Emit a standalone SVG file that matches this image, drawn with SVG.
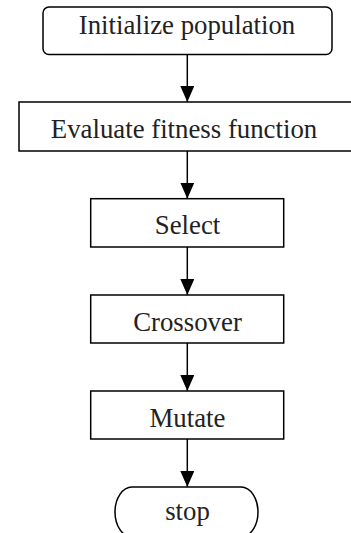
<svg xmlns="http://www.w3.org/2000/svg" width="351" height="533" viewBox="0 0 351 533">
<style>
.box{fill:#fff;stroke:#000;stroke-width:1.5}
.lbl{font-family:'Liberation Serif',serif;font-size:26.8px;fill:#222;text-anchor:middle}
.edge{stroke:#000;stroke-width:1.5;fill:none;marker-end:url(#arr)}
</style>
<defs>
<marker id="arr" markerUnits="userSpaceOnUse" markerWidth="17" markerHeight="14" refX="16" refY="7" orient="auto">
<path d="M0,0 L16,7 L0,14 z" fill="#000"/>
</marker>
</defs>
<rect width="351" height="533" fill="#fff"/>
<g id="connectors">
<line class="edge" x1="187.3" y1="54.5" x2="187.3" y2="102"/>
<line class="edge" x1="187.3" y1="151" x2="187.3" y2="198.7"/>
<line class="edge" x1="187.3" y1="247" x2="187.3" y2="295"/>
<line class="edge" x1="187.3" y1="343" x2="187.3" y2="391"/>
<line class="edge" x1="187.3" y1="439" x2="187.3" y2="487"/>
</g>
<g id="init">
<rect class="box" x="43" y="7" width="289" height="47.5" rx="6"/>
<text class="lbl" font-family="Liberation Serif, serif" x="187" y="33.5">Initialize population</text>
</g>
<g id="evaluate">
<rect class="box" x="19" y="102" width="345" height="49"/>
<text class="lbl" font-family="Liberation Serif, serif" x="184" y="138.3">Evaluate fitness function</text>
</g>
<g id="select">
<rect class="box" x="90.7" y="198.7" width="193" height="48.3"/>
<text class="lbl" font-family="Liberation Serif, serif" x="187.5" y="234.3">Select</text>
</g>
<g id="crossover">
<rect class="box" x="90.7" y="295" width="193" height="48"/>
<text class="lbl" font-family="Liberation Serif, serif" x="187.5" y="330.7">Crossover</text>
</g>
<g id="mutate">
<rect class="box" x="90.7" y="391" width="193" height="48"/>
<text class="lbl" font-family="Liberation Serif, serif" x="187.5" y="426.7">Mutate</text>
</g>
<g id="stop">
<rect class="box" x="115" y="487" width="143" height="50" rx="17" ry="25"/>
<text class="lbl" font-family="Liberation Serif, serif" x="187.5" y="520">stop</text>
</g>
</svg>
